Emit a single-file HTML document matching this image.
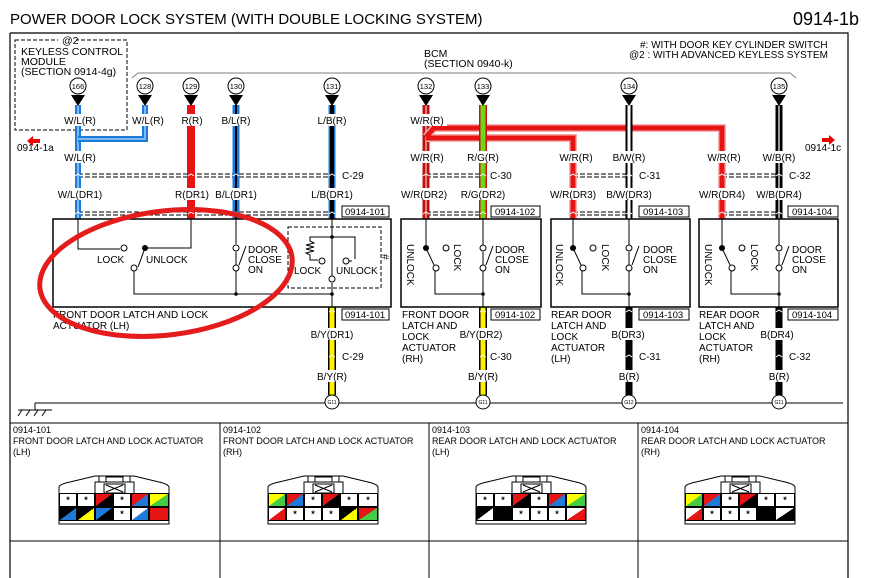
<!DOCTYPE html>
<html><head><meta charset="utf-8"><style>
body{margin:0;background:#fff;}
#w{position:relative;width:871px;height:578px;overflow:hidden;font-family:"Liberation Sans",sans-serif;}
svg text{font-family:"Liberation Sans",sans-serif;}
.c{position:absolute;width:18px;height:14px;box-sizing:border-box;border:1px solid #000;font-size:9px;text-align:center;line-height:12px;font-weight:bold;}
</style></head><body><div id="w">
<svg width="871" height="578" viewBox="0 0 871 578" xmlns="http://www.w3.org/2000/svg">
<text x="10" y="24" font-size="15">POWER DOOR LOCK SYSTEM (WITH DOUBLE LOCKING SYSTEM)</text>
<text x="793" y="25" font-size="18">0914-1b</text>
<path d="M10,33 H848 V578 M10,33 V578" fill="none" stroke="#000" stroke-width="1.2"/>
<g stroke="#000" stroke-width="1" fill="none">
<line x1="10" y1="423" x2="848" y2="423"/><line x1="10" y1="541" x2="848" y2="541"/>
<line x1="220" y1="423" x2="220" y2="578"/><line x1="429" y1="423" x2="429" y2="578"/><line x1="638" y1="423" x2="638" y2="578"/>
</g>
<g font-size="9">
<text x="13" y="433">0914-101</text><text x="13" y="444">FRONT DOOR LATCH AND LOCK ACTUATOR</text><text x="13" y="455">(LH)</text>
<text x="223" y="433">0914-102</text><text x="223" y="444">FRONT DOOR LATCH AND LOCK ACTUATOR</text><text x="223" y="455">(RH)</text>
<text x="432" y="433">0914-103</text><text x="432" y="444">REAR DOOR LATCH AND LOCK ACTUATOR</text><text x="432" y="455">(LH)</text>
<text x="641" y="433">0914-104</text><text x="641" y="444">REAR DOOR LATCH AND LOCK ACTUATOR</text><text x="641" y="455">(RH)</text>
</g>
<g fill="none" stroke="#000" stroke-width="1">
<path d="M59,524 V487 Q60,484 70,482 L95,476 H134 L159,482 Q168,484 169,487 V524 Z"/>
<path d="M95,493 V482 H134 V493 M99,482 V476 M130,482 V476 M106,477 H123 V482 H106Z M104,484 H125 V493 H104Z M106,485 L123,492 M123,485 L106,492"/>
<path d="M268,524 V487 Q269,484 279,482 L304,476 H343 L368,482 Q377,484 378,487 V524 Z"/>
<path d="M304,493 V482 H343 V493 M308,482 V476 M339,482 V476 M315,477 H332 V482 H315Z M313,484 H334 V493 H313Z M315,485 L332,492 M332,485 L315,492"/>
<path d="M476,524 V487 Q477,484 487,482 L512,476 H551 L576,482 Q585,484 586,487 V524 Z"/>
<path d="M512,493 V482 H551 V493 M516,482 V476 M547,482 V476 M523,477 H540 V482 H523Z M521,484 H542 V493 H521Z M523,485 L540,492 M540,485 L523,492"/>
<path d="M685,524 V487 Q686,484 696,482 L721,476 H760 L785,482 Q794,484 795,487 V524 Z"/>
<path d="M721,493 V482 H760 V493 M725,482 V476 M756,482 V476 M732,477 H749 V482 H732Z M730,484 H751 V493 H730Z M732,485 L749,492 M749,485 L732,492"/>
</g>
<rect x="15" y="40" width="112" height="90" fill="none" stroke="#000" stroke-dasharray="4,2"/>
<rect x="58" y="36" width="18" height="8" fill="#fff"/>
<g font-size="10.5"><text x="62" y="44">@2</text><text x="21" y="55">KEYLESS CONTROL</text><text x="21" y="65">MODULE</text><text x="21" y="75">(SECTION 0914-4g)</text>
<text x="424" y="57">BCM</text><text x="424" y="67">(SECTION 0940-k)</text></g>
<g font-size="10"><text x="640" y="48">#: WITH DOOR KEY CYLINDER SWITCH</text><text x="629" y="58">@2 : WITH ADVANCED KEYLESS SYSTEM</text>
<text x="17" y="151">0914-1a</text><text x="805" y="151">0914-1c</text></g>
<path d="M132,78 L138,73 H790 L796,78" fill="none" stroke="#999" stroke-width="1.2"/>
<path d="M40,139 h-7 v-3 l-6,5 6,5 v-3 h7z" fill="#e00"/>
<path d="M822,138 h7 v-3 l6,5 -6,5 v-3 h-7z" fill="#e00"/>
<g stroke="#000" stroke-dasharray="5,2" stroke-width="1" fill="none">
<path d="M78,174 H332 M78,177 H332"/>
<path d="M78,212 H332 M78,215 H332"/>
<path d="M426,174 H483 M426,177 H483 M426,212 H483 M426,215 H483"/>
<path d="M573,174 H629 M573,177 H629 M573,212 H629 M573,215 H629"/>
<path d="M722,174 H779 M722,177 H779 M722,212 H779 M722,215 H779"/>
</g>
<g fill="none">
<path d="M78,105 V219" stroke="#1e7ad8" stroke-width="6"/><path d="M78,105 V219" stroke="#9cd0ff" stroke-width="1.5"/>
<path d="M78,139 H145 V105" stroke="#1e7ad8" stroke-width="6"/><path d="M78,139 H145 V105" stroke="#9cd0ff" stroke-width="1.5"/>
<path d="M191,105 V219" stroke="#e61414" stroke-width="8"/>
<path d="M236,105 V219" stroke="#1e7ad8" stroke-width="7"/><path d="M236,105 V219" stroke="#000" stroke-width="2"/>
<path d="M332,105 V219" stroke="#1e7ad8" stroke-width="7"/><path d="M332,105 V219" stroke="#000" stroke-width="4"/>
<path d="M426,105 V219" stroke="#c01010" stroke-width="7"/><path d="M426,105 V219" stroke="#f0a0a0" stroke-width="1.5"/>
<path d="M426,137 L434,128 H722 V219 M426,138 H573 V219" stroke="#f4b0b0" stroke-width="8"/>
<path d="M426,137 L434,128 H722 V219 M426,138 H573 V219" stroke="#e61414" stroke-width="5"/>
<path d="M483,105 V219" stroke="#d01010" stroke-width="8"/><path d="M483,105 V219" stroke="#6ad818" stroke-width="5"/>
<path d="M629,105 V219" stroke="#000" stroke-width="7"/><path d="M629,105 V219" stroke="#fff" stroke-width="3"/>
<path d="M779,105 V219" stroke="#000" stroke-width="7"/><path d="M779,105 V219" stroke="#fff" stroke-width="1.2"/>
<path d="M332,307 V395 M483,307 V395" stroke="#000" stroke-width="8"/><path d="M332,307 V395 M483,307 V395" stroke="#ffef00" stroke-width="5"/>
<path d="M629,307 V395 M779,307 V395" stroke="#000" stroke-width="7"/>
</g>
<g stroke="#fff" stroke-width="1" fill="none">
<path d="M75,176 l3,-2 3,2 M75,214 l3,-2 3,2 M188,176 l3,-2 3,2 M188,214 l3,-2 3,2 M233,176 l3,-2 3,2 M233,214 l3,-2 3,2 M329,176 l3,-2 3,2 M329,214 l3,-2 3,2 M423,176 l3,-2 3,2 M423,214 l3,-2 3,2 M480,176 l3,-2 3,2 M480,214 l3,-2 3,2 M570,176 l3,-2 3,2 M570,214 l3,-2 3,2 M626,176 l3,-2 3,2 M626,214 l3,-2 3,2 M719,176 l3,-2 3,2 M719,214 l3,-2 3,2 M776,176 l3,-2 3,2 M776,214 l3,-2 3,2 M329,312 l3,-2 3,2 M329,357 l3,-2 3,2 M480,312 l3,-2 3,2 M480,357 l3,-2 3,2 M626,312 l3,-2 3,2 M626,357 l3,-2 3,2 M776,312 l3,-2 3,2 M776,357 l3,-2 3,2"/>
</g>
<g fill="#fff">
<rect x="61" y="114" width="38" height="12"/><rect x="129" y="114" width="38" height="12"/><rect x="178" y="114" width="28" height="12"/><rect x="217" y="114" width="38" height="12"/><rect x="313" y="114" width="38" height="12"/><rect x="407" y="114" width="40" height="12"/>
<rect x="61" y="151" width="38" height="12"/><rect x="407" y="151" width="40" height="12"/><rect x="463" y="151" width="40" height="12"/><rect x="556" y="151" width="40" height="12"/><rect x="609" y="151" width="40" height="12"/><rect x="704" y="151" width="40" height="12"/><rect x="759" y="151" width="40" height="12"/>
<rect x="56" y="188" width="48" height="12"/><rect x="173" y="188" width="38" height="12"/><rect x="212" y="188" width="48" height="12"/><rect x="308" y="188" width="48" height="12"/><rect x="400" y="188" width="48" height="12"/><rect x="459" y="188" width="48" height="12"/><rect x="549" y="188" width="48" height="12"/><rect x="605" y="188" width="48" height="12"/><rect x="698" y="188" width="48" height="12"/><rect x="755" y="188" width="48" height="12"/>
<rect x="308" y="328" width="48" height="12"/><rect x="457" y="328" width="48" height="12"/><rect x="609" y="328" width="38" height="12"/><rect x="758" y="328" width="38" height="12"/>
<rect x="314" y="370" width="36" height="12"/><rect x="465" y="370" width="36" height="12"/><rect x="616" y="370" width="26" height="12"/><rect x="766" y="370" width="26" height="12"/>
</g>
<g stroke="#000" fill="#fff">
<circle cx="78" cy="86" r="8"/><circle cx="145" cy="86" r="8"/><circle cx="191" cy="86" r="8"/><circle cx="236" cy="86" r="8"/><circle cx="332" cy="86" r="8"/><circle cx="426" cy="86" r="8"/><circle cx="483" cy="86" r="8"/><circle cx="629" cy="86" r="8"/><circle cx="779" cy="86" r="8"/>
</g>
<g font-size="7.5" text-anchor="middle"><text x="78" y="89">166</text><text x="145" y="89">128</text><text x="191" y="89">129</text><text x="236" y="89">130</text><text x="332" y="89">131</text><text x="426" y="89">132</text><text x="483" y="89">133</text><text x="629" y="89">134</text><text x="779" y="89">135</text></g>
<g fill="#000"><path d="M71,95 h14 l-7,11z M138,95 h14 l-7,11z M184,95 h14 l-7,11z M229,95 h14 l-7,11z M325,95 h14 l-7,11z M419,95 h14 l-7,11z M476,95 h14 l-7,11z M622,95 h14 l-7,11z M772,95 h14 l-7,11z"/></g>
<g font-size="10" text-anchor="middle">
<text x="80" y="124">W/L(R)</text><text x="148" y="124">W/L(R)</text><text x="192" y="124">R(R)</text><text x="236" y="124">B/L(R)</text><text x="332" y="124">L/B(R)</text><text x="427" y="124">W/R(R)</text>
<text x="80" y="161">W/L(R)</text><text x="427" y="161">W/R(R)</text><text x="483" y="161">R/G(R)</text><text x="576" y="161">W/R(R)</text><text x="629" y="161">B/W(R)</text><text x="724" y="161">W/R(R)</text><text x="779" y="161">W/B(R)</text>
<text x="80" y="198">W/L(DR1)</text><text x="192" y="198">R(DR1)</text><text x="236" y="198">B/L(DR1)</text><text x="332" y="198">L/B(DR1)</text><text x="424" y="198">W/R(DR2)</text><text x="483" y="198">R/G(DR2)</text><text x="573" y="198">W/R(DR3)</text><text x="629" y="198">B/W(DR3)</text><text x="722" y="198">W/R(DR4)</text><text x="779" y="198">W/B(DR4)</text>
<text x="332" y="338">B/Y(DR1)</text><text x="481" y="338">B/Y(DR2)</text><text x="628" y="338">B(DR3)</text><text x="777" y="338">B(DR4)</text>
<text x="332" y="380">B/Y(R)</text><text x="483" y="380">B/Y(R)</text><text x="629" y="380">B(R)</text><text x="779" y="380">B(R)</text>
</g>
<g font-size="10"><text x="342" y="179">C-29</text><text x="490" y="179">C-30</text><text x="639" y="179">C-31</text><text x="789" y="179">C-32</text>
<text x="342" y="360">C-29</text><text x="490" y="360">C-30</text><text x="639" y="360">C-31</text><text x="789" y="360">C-32</text></g>
<g fill="#fff" stroke="#000"><rect x="342" y="206" width="47" height="11"/><rect x="491" y="206" width="49" height="11"/><rect x="639" y="206" width="50" height="11"/><rect x="788" y="206" width="50" height="11"/>
<rect x="342" y="309" width="47" height="11"/><rect x="491" y="309" width="49" height="11"/><rect x="639" y="309" width="50" height="11"/><rect x="788" y="309" width="50" height="11"/></g>
<g font-size="9.5"><text x="345" y="215">0914-101</text><text x="495" y="215">0914-102</text><text x="643" y="215">0914-103</text><text x="792" y="215">0914-104</text>
<text x="345" y="318">0914-101</text><text x="495" y="318">0914-102</text><text x="643" y="318">0914-103</text><text x="792" y="318">0914-104</text></g>
<g fill="none" stroke="#000" stroke-width="1.5"><rect x="53" y="219" width="338" height="88"/><rect x="401" y="219" width="140" height="88"/><rect x="551" y="219" width="139" height="88"/><rect x="699" y="219" width="139" height="88"/></g>
<rect x="288" y="227" width="93" height="61" fill="none" stroke="#000" stroke-dasharray="4,2"/>
<g fill="none" stroke="#000" stroke-width="1">
<path d="M78,219 V249 H120 M191,219 V248 H145 M138,267 L145,248 M134,271 V294 H332 M236,219 V244 M236,252 V265 M239,265 L246,246 M236,271 V294 M332,219 V276 M332,283 V307 M332,237 H355 V259 M352,261 L349,261 M332,237 H310 V241 l4,2 -8,2 8,2 -8,2 8,2 -8,2 4,2 V260 H318"/>
<circle cx="124" cy="248" r="3" fill="#fff"/><circle cx="134" cy="268" r="3" fill="#fff"/>
<circle cx="236" cy="248" r="3" fill="#fff"/><circle cx="236" cy="268" r="3" fill="#fff"/>
<circle cx="322" cy="261" r="3" fill="#fff"/><circle cx="346" cy="261" r="3" fill="#fff"/><circle cx="332" cy="279" r="3" fill="#fff"/>
</g>
<g fill="#000"><circle cx="145" cy="248" r="3"/><circle cx="236" cy="294" r="1.8"/><circle cx="332" cy="294" r="1.8"/><circle cx="332" cy="237" r="1.8"/></g>
<g font-size="10"><text x="97" y="263">LOCK</text><text x="146" y="263">UNLOCK</text><text x="248" y="253">DOOR</text><text x="248" y="263">CLOSE</text><text x="248" y="273">ON</text>
<text x="294" y="274">LOCK</text><text x="336" y="274">UNLOCK</text><text x="378" y="258" transform="rotate(90 382 258)">#</text>
<text x="53" y="318">FRONT DOOR LATCH AND LOCK</text><text x="53" y="329">ACTUATOR (LH)</text>
<text x="402" y="318">FRONT DOOR</text><text x="402" y="329">LATCH AND</text><text x="402" y="340">LOCK</text><text x="402" y="351">ACTUATOR</text><text x="402" y="362">(RH)</text>
<text x="551" y="318">REAR DOOR</text><text x="551" y="329">LATCH AND</text><text x="551" y="340">LOCK</text><text x="551" y="351">ACTUATOR</text><text x="551" y="362">(LH)</text>
<text x="699" y="318">REAR DOOR</text><text x="699" y="329">LATCH AND</text><text x="699" y="340">LOCK</text><text x="699" y="351">ACTUATOR</text><text x="699" y="362">(RH)</text>
</g>
<g fill="none" stroke="#000" stroke-width="1">
<path d="M426,219 V248 L434,265 M435,270 V294 H483 M483,219 V245 M483,252 V265 M486,265 L493,246 M483,271 V307"/>
<circle cx="436" cy="268" r="3" fill="#fff"/><circle cx="446" cy="248" r="3" fill="#fff"/><circle cx="483" cy="248" r="3" fill="#fff"/><circle cx="483" cy="268" r="3" fill="#fff"/>
<path d="M573,219 V248 L581,265 M582,270 V294 H629 M629,219 V245 M629,252 V265 M632,265 L639,246 M629,271 V307"/>
<circle cx="583" cy="268" r="3" fill="#fff"/><circle cx="593" cy="248" r="3" fill="#fff"/><circle cx="629" cy="248" r="3" fill="#fff"/><circle cx="629" cy="268" r="3" fill="#fff"/>
<path d="M722,219 V248 L730,265 M731,270 V294 H779 M779,219 V245 M779,252 V265 M782,265 L789,246 M779,271 V307"/>
<circle cx="732" cy="268" r="3" fill="#fff"/><circle cx="742" cy="248" r="3" fill="#fff"/><circle cx="779" cy="248" r="3" fill="#fff"/><circle cx="779" cy="268" r="3" fill="#fff"/>
</g>
<g fill="#000"><circle cx="426" cy="248" r="3"/><circle cx="483" cy="294" r="1.8"/><circle cx="573" cy="248" r="3"/><circle cx="629" cy="294" r="1.8"/><circle cx="722" cy="248" r="3"/><circle cx="779" cy="294" r="1.8"/></g>
<g font-size="10">
<text transform="translate(407,244) rotate(90)">UNLOCK</text><text transform="translate(454,244) rotate(90)">LOCK</text>
<text transform="translate(556,244) rotate(90)">UNLOCK</text><text transform="translate(602,244) rotate(90)">LOCK</text>
<text transform="translate(705,244) rotate(90)">UNLOCK</text><text transform="translate(751,244) rotate(90)">LOCK</text>
<text x="495" y="253">DOOR</text><text x="495" y="263">CLOSE</text><text x="495" y="273">ON</text>
<text x="643" y="253">DOOR</text><text x="643" y="263">CLOSE</text><text x="643" y="273">ON</text>
<text x="792" y="253">DOOR</text><text x="792" y="263">CLOSE</text><text x="792" y="273">ON</text>
</g>
<path d="M35,403 H843 M35,403 V410 M18,410 H52 M22,410 l-4,6 M30,410 l-4,6 M38,410 l-4,6 M46,410 l-4,6" fill="none" stroke="#000"/>
<g stroke="#000" fill="#fff"><circle cx="332" cy="402" r="7"/><circle cx="483" cy="402" r="7"/><circle cx="629" cy="402" r="7"/><circle cx="779" cy="402" r="7"/></g>
<g font-size="5" text-anchor="middle"><text x="332" y="404">G11</text><text x="483" y="404">G11</text><text x="629" y="404">G12</text><text x="779" y="404">G11</text></g>
<ellipse cx="166" cy="273" rx="127" ry="62" transform="rotate(-7 166 273)" fill="none" stroke="#e41c1c" stroke-width="5"/>
</svg>
<div style="position:absolute;left:0;top:0">
<div class="c" style="left:59px;top:493px">*</div><div class="c" style="left:77px;top:493px">*</div><div class="c" style="left:95px;top:493px;background:linear-gradient(to top left,#000 50%,#e61414 50%)"></div><div class="c" style="left:113px;top:493px">*</div><div class="c" style="left:131px;top:493px;background:linear-gradient(to top left,#1e7ad8 50%,#e61414 50%)"></div><div class="c" style="left:149px;top:493px;width:20px;background:linear-gradient(to top left,#4c4 50%,#ff0 50%)"></div>
<div class="c" style="left:59px;top:507px;background:linear-gradient(to top left,#1e7ad8 50%,#000 50%)"></div><div class="c" style="left:77px;top:507px;background:linear-gradient(to top left,#ff0 50%,#000 50%)"></div><div class="c" style="left:95px;top:507px;background:linear-gradient(to top left,#000 50%,#1e7ad8 50%)"></div><div class="c" style="left:113px;top:507px">*</div><div class="c" style="left:131px;top:507px;background:linear-gradient(to top left,#1e7ad8 50%,#fff 50%)"></div><div class="c" style="left:149px;top:507px;width:20px;background:#e61414"></div>
<div class="c" style="left:268px;top:493px;background:linear-gradient(to top left,#4c4 50%,#ff0 50%)"></div><div class="c" style="left:286px;top:493px;background:linear-gradient(to top left,#1e7ad8 50%,#e61414 50%)"></div><div class="c" style="left:304px;top:493px">*</div><div class="c" style="left:322px;top:493px;background:linear-gradient(to top left,#000 50%,#e61414 50%)"></div><div class="c" style="left:340px;top:493px">*</div><div class="c" style="left:358px;top:493px;width:20px">*</div>
<div class="c" style="left:268px;top:507px;background:linear-gradient(to top left,#e61414 50%,#fff 50%)"></div><div class="c" style="left:286px;top:507px">*</div><div class="c" style="left:304px;top:507px">*</div><div class="c" style="left:322px;top:507px">*</div><div class="c" style="left:340px;top:507px;background:linear-gradient(to top left,#ff0 50%,#000 50%)"></div><div class="c" style="left:358px;top:507px;width:20px;background:linear-gradient(to top left,#4c4 50%,#e61414 50%)"></div>
<div class="c" style="left:476px;top:493px">*</div><div class="c" style="left:494px;top:493px">*</div><div class="c" style="left:512px;top:493px;background:linear-gradient(to top left,#000 50%,#e61414 50%)"></div><div class="c" style="left:530px;top:493px">*</div><div class="c" style="left:548px;top:493px;background:linear-gradient(to top left,#1e7ad8 50%,#e61414 50%)"></div><div class="c" style="left:566px;top:493px;width:20px;background:linear-gradient(to top left,#4c4 50%,#ff0 50%)"></div>
<div class="c" style="left:476px;top:507px;background:linear-gradient(to top left,#fff 50%,#000 50%)"></div><div class="c" style="left:494px;top:507px;background:#000"></div><div class="c" style="left:512px;top:507px">*</div><div class="c" style="left:530px;top:507px">*</div><div class="c" style="left:548px;top:507px">*</div><div class="c" style="left:566px;top:507px;width:20px;background:linear-gradient(to top left,#e61414 50%,#fff 50%)"></div>
<div class="c" style="left:685px;top:493px;background:linear-gradient(to top left,#4c4 50%,#ff0 50%)"></div><div class="c" style="left:703px;top:493px;background:linear-gradient(to top left,#1e7ad8 50%,#e61414 50%)"></div><div class="c" style="left:721px;top:493px">*</div><div class="c" style="left:739px;top:493px;background:linear-gradient(to top left,#000 50%,#e61414 50%)"></div><div class="c" style="left:757px;top:493px">*</div><div class="c" style="left:775px;top:493px;width:20px">*</div>
<div class="c" style="left:685px;top:507px;background:linear-gradient(to top left,#e61414 50%,#fff 50%)"></div><div class="c" style="left:703px;top:507px">*</div><div class="c" style="left:721px;top:507px">*</div><div class="c" style="left:739px;top:507px">*</div><div class="c" style="left:757px;top:507px;background:#000"></div><div class="c" style="left:775px;top:507px;width:20px;background:linear-gradient(to top left,#000 50%,#fff 50%)"></div>
</div>
</div></body></html>
